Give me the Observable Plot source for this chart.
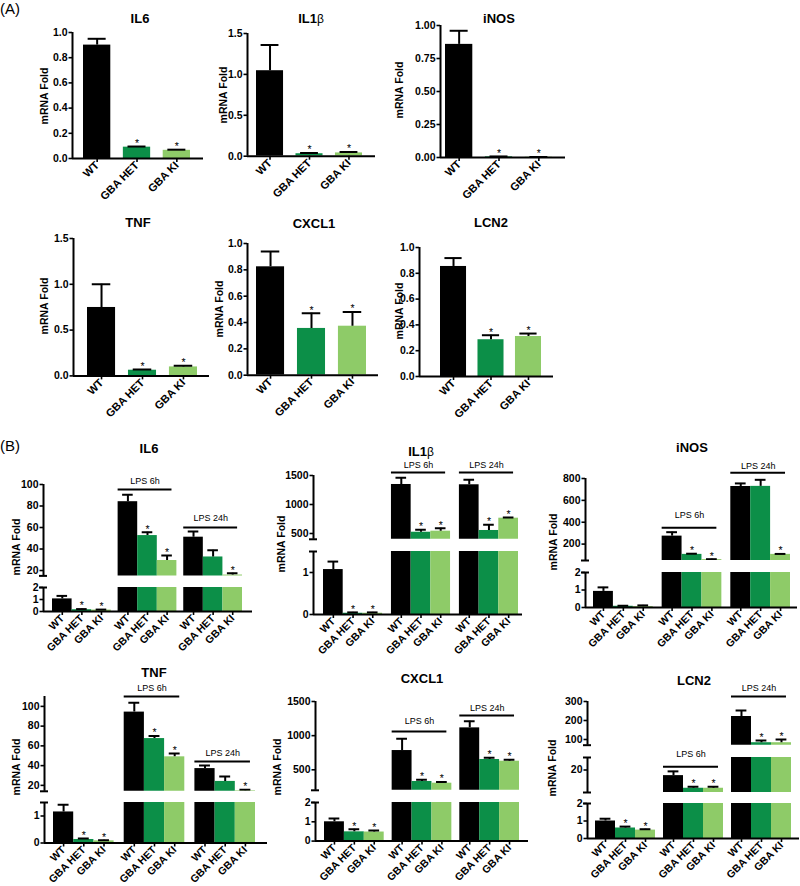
<!DOCTYPE html>
<html><head><meta charset="utf-8">
<script src="https://cdn.jsdelivr.net/npm/d3@7"></script>
<script src="https://cdn.jsdelivr.net/npm/@observablehq/plot@0.6"></script>
<style>
body{margin:0;background:#fff;}
#fig{position:relative;width:800px;height:886px;overflow:hidden;font-family:"Liberation Sans",Arial,sans-serif;color:#000;background:#fff;}
.title{position:absolute;transform:translate(-50%,-50%);font-weight:bold;font-size:13px;white-space:nowrap;}
.ylab{position:absolute;transform:translate(-50%,-50%) rotate(-90deg);font-weight:bold;font-size:10.5px;white-space:nowrap;}
.panel{position:absolute;font-size:15px;}
</style></head><body><div id="fig"></div>
<script>
// ---------- categories ----------
const genotypes = ["WT", "GBA HET", "GBA KI"];
const treatments = ["Control", "LPS 6h", "LPS 24h"];
const barColors = ["#000000", "#0c8f48", "#8ecb68"];

// ---------- Panel A (mRNA fold, one group) ----------
const il6A_mean = [0.90, 0.09, 0.065];
const il6A_err = [0.95, 0.095, 0.07];
const il6A_sig = [0, 1, 1];
const il1bA_mean = [1.045, 0.03, 0.04];
const il1bA_err = [1.36, 0.04, 0.05];
const il1bA_sig = [0, 1, 1];
const inosA_mean = [0.857, 0.005, 0.002];
const inosA_err = [0.96, 0.008, 0.004];
const inosA_sig = [0, 1, 1];
const tnfA_mean = [0.747, 0.062, 0.098];
const tnfA_err = [1.0, 0.07, 0.11];
const tnfA_sig = [0, 1, 1];
const cxcl1A_mean = [0.823, 0.355, 0.372];
const cxcl1A_err = [0.94, 0.47, 0.48];
const cxcl1A_sig = [0, 1, 1];
const lcn2A_mean = [0.853, 0.285, 0.31];
const lcn2A_err = [0.918, 0.32, 0.333];
const lcn2A_sig = [0, 1, 1];

// ---------- Panel B (rows: Control, LPS 6h, LPS 24h; cols: WT, HET, KI) ----------
const il6B_mean = [[1.05, 0.15, 0.12], [84, 52.5, 29.3], [51, 32.6, 15.8]];
const il6B_err  = [[1.3, 0.2, 0.16], [90.4, 55.6, 33.9], [56.3, 38.8, 17.5]];
const il6B_sig  = [[0, 1, 1], [0, 1, 1], [0, 0, 1]];
const il1bB_mean = [[1.07, 0.03, 0.03], [1345, 522, 540], [1340, 552, 764]];
const il1bB_err  = [[1.26, 0.05, 0.05], [1460, 563, 591], [1425, 650, 775]];
const il1bB_sig  = [[0, 1, 1], [0, 1, 1], [0, 1, 1]];
const inosB_mean = [[0.92, 0.07, 0.05], [273, 106, 58], [727, 728, 106]];
const inosB_err  = [[1.15, 0.1, 0.12], [309, 112, 62], [755, 788, 110]];
const inosB_sig  = [[0, 0, 0], [0, 1, 1], [0, 0, 1]];
const tnfB_mean = [[1.15, 0.13, 0.08], [94.2, 67.4, 48.9], [37, 24, 14.5]];
const tnfB_err  = [[1.42, 0.17, 0.1], [103.7, 70, 52.3], [40, 29, 15.5]];
const tnfB_sig  = [[0, 1, 1], [0, 1, 1], [0, 0, 1]];
const cxcl1B_mean = [[1.0, 0.48, 0.47], [782, 329, 304], [1114, 651, 626]];
const cxcl1B_err  = [[1.17, 0.62, 0.55], [953, 354, 320], [1211, 675, 646]];
const cxcl1B_sig  = [[0, 1, 1], [0, 1, 1], [0, 1, 1]];
const lcn2B_mean = [[1.0, 0.6, 0.48], [15.5, 5.4, 5.4], [221, 83, 83]];
const lcn2B_err  = [[1.13, 0.68, 0.53], [18.9, 6.6, 6.6], [253, 95, 100]];
const lcn2B_sig  = [[0, 1, 1], [0, 1, 1], [0, 1, 1]];

// bracket levels (in axis units of the segment they sit in)
const il6B_brackets = [{g: 1, y: 95.3}, {g: 2, y: 60}];
const il1bB_brackets = [{g: 1, y: 1552}, {g: 2, y: 1552}];
const inosB_brackets = [{g: 1, y: 349}, {g: 2, y: 852}];
const tnfB_brackets = [{g: 1, y: 110}, {g: 2, y: 44.3}];
const cxcl1B_brackets = [{g: 1, y: 1061}, {g: 2, y: 1295}];
const lcn2B_brackets = [{g: 1, y: 22.6}, {g: 2, y: 326}];

// ---------- layout ----------
const f1 = ".1f", f2 = ".2f";
const chartsA = [
  {title: "IL6", tx: 140, ty: 18, lx: 43.5, ly: 96, mean: [il6A_mean], err: [il6A_err], sig: [il6A_sig],
   axisX: 72, b0: 83, b1: 190, xEnd: 203, ig: 0.46,
   segs: [{domain: [0, 1], top: 32, bottom: 158, ticks: [0, 0.2, 0.4, 0.6, 0.8, 1], fmt: f1}]},
  {title: "IL1β", tx: 311, ty: 18, lx: 223, ly: 95, mean: [il1bA_mean], err: [il1bA_err], sig: [il1bA_sig],
   axisX: 247, b0: 256, b1: 362, xEnd: 375, ig: 0.46,
   segs: [{domain: [0, 1.5], top: 33, bottom: 155.7, ticks: [0, 0.5, 1, 1.5], fmt: f1}]},
  {title: "iNOS", tx: 499, ty: 18, lx: 399, ly: 90, mean: [inosA_mean], err: [inosA_err], sig: [inosA_sig],
   axisX: 440, b0: 445, b1: 552, xEnd: 565, ig: 0.46,
   segs: [{domain: [0, 1], top: 25.3, bottom: 157.3, ticks: [0, 0.25, 0.5, 0.75, 1], fmt: f2}]},
  {title: "TNF", tx: 138, ty: 222, lx: 44, ly: 306, mean: [tnfA_mean], err: [tnfA_err], sig: [tnfA_sig],
   axisX: 73, b0: 87, b1: 197, xEnd: 209, ig: 0.46,
   segs: [{domain: [0, 1.5], top: 238.3, bottom: 375.7, ticks: [0, 0.5, 1, 1.5], fmt: f1}]},
  {title: "CXCL1", tx: 314, ty: 223, lx: 219, ly: 309, mean: [cxcl1A_mean], err: [cxcl1A_err], sig: [cxcl1A_sig],
   axisX: 247, b0: 256, b1: 366, xEnd: 378, ig: 0.46,
   segs: [{domain: [0, 1], top: 243.3, bottom: 375, ticks: [0, 0.2, 0.4, 0.6, 0.8, 1], fmt: f1}]},
  {title: "LCN2", tx: 491, ty: 222, lx: 399, ly: 311, mean: [lcn2A_mean], err: [lcn2A_err], sig: [lcn2A_sig],
   axisX: 419, b0: 440, b1: 541, xEnd: 553, ig: 0.44,
   segs: [{domain: [0, 1], top: 246.7, bottom: 375.7, ticks: [0, 0.2, 0.4, 0.6, 0.8, 1], fmt: f1}]}
];
const chartsB = [
  {title: "IL6", tx: 149, ty: 448, lx: 16, ly: 547, mean: il6B_mean, err: il6B_err, sig: il6B_sig,
   axisX: 43, b0: 52, b1: 242, xEnd: 252, gg: 0.35,
   brackets: il6B_brackets, bseg: [0, 0], bdy: [-8, -9],
   segs: [{domain: [15, 100], top: 484, bottom: 575.4, ticks: [20, 40, 60, 80, 100]},
          {domain: [0, 2], top: 587, bottom: 611, ticks: [0, 1, 2]}]},
  {title: "IL1β", tx: 421, ty: 451, lx: 281, ly: 544, mean: il1bB_mean, err: il1bB_err, sig: il1bB_sig,
   axisX: 313, b0: 323, b1: 518, xEnd: 522, gg: 0.45,
   brackets: il1bB_brackets, bseg: [0, 0], bdy: [-7, -7],
   segs: [{domain: [400, 1500], top: 475, bottom: 538.8, ticks: [500, 1000, 1500]},
          {domain: [0, 1.5], top: 551, bottom: 614, ticks: [0, 1]}]},
  {title: "iNOS", tx: 692, ty: 447, lx: 553, ly: 542, mean: inosB_mean, err: inosB_err, sig: inosB_sig,
   axisX: 585, b0: 593, b1: 790, xEnd: 797, gg: 0.45,
   brackets: inosB_brackets, bseg: [0, 0], bdy: [-13, -7],
   segs: [{domain: [50, 800], top: 477.7, bottom: 559.7, ticks: [200, 400, 600, 800]},
          {domain: [0, 2], top: 571.7, bottom: 606.7, ticks: [0, 1, 2]}]},
  {title: "TNF", tx: 154, ty: 672, lx: 16, ly: 767, mean: tnfB_mean, err: tnfB_err, sig: tnfB_sig,
   axisX: 44, b0: 53, b1: 255, xEnd: 267, gg: 0.5,
   brackets: tnfB_brackets, bseg: [0, 0], bdy: [-8, -8],
   segs: [{domain: [14, 110], top: 696.1, bottom: 790.9, ticks: [20, 40, 60, 80, 100]},
          {domain: [0, 1.5], top: 802.2, bottom: 842.7, ticks: [0, 1]}]},
  {title: "CXCL1", tx: 422, ty: 678, lx: 277, ly: 767, mean: cxcl1B_mean, err: cxcl1B_err, sig: cxcl1B_sig,
   axisX: 315, b0: 324, b1: 519, xEnd: 528, gg: 0.4,
   brackets: cxcl1B_brackets, bseg: [0, 0], bdy: [-10, -7],
   segs: [{domain: [200, 1500], top: 701, bottom: 789.8, ticks: [500, 1000, 1500]},
          {domain: [0, 2], top: 801.7, bottom: 840.3, ticks: [0, 1, 2]}]},
  {title: "LCN2", tx: 694, ty: 680, lx: 552, ly: 768, mean: lcn2B_mean, err: lcn2B_err, sig: lcn2B_sig,
   axisX: 587, b0: 595, b1: 791, xEnd: 799, gg: 0.4,
   brackets: lcn2B_brackets, bseg: [1, 0], bdy: [-13, -8],
   segs: [{domain: [70, 300], top: 701, bottom: 744.7, ticks: [100, 200, 300]},
          {domain: [2, 30], top: 756.7, bottom: 791.7, ticks: [20]},
          {domain: [0, 2], top: 802.7, bottom: 837.7, ticks: [0, 1, 2]}]}
];

const fig = document.getElementById("fig");
function addDiv(cls, html, x, y) {
  const d = document.createElement("div");
  d.className = cls; d.innerHTML = html;
  d.style.left = x + "px"; d.style.top = y + "px";
  fig.appendChild(d);
}

function drawChart(c, isB) {
  const nG = c.mean.length;
  const ig = c.ig || 0, gg = c.gg || 0;
  const groupW = 3 + 2 * ig;
  const bars = [];
  for (let g = 0; g < nG; g++) for (let k = 0; k < 3; k++) {
    const x1 = g * (groupW + gg) + k * (1 + ig);
    bars.push({x1, x2: x1 + 1, xc: x1 + 0.5, v: c.mean[g][k], e: c.err[g][k],
      star: !!c.sig[g][k], color: barColors[k], label: genotypes[k]});
  }
  const total = nG * groupW + (nG - 1) * gg;
  const ppu = (c.b1 - c.b0) / total;
  const xmin = -(c.b0 - c.axisX) / ppu;
  const xmax = total + (c.xEnd - c.b1) / ppu;
  const capH = isB ? 0.27 : 0.33;
  bars.forEach(d => { d.cx1 = d.xc - capH; d.cx2 = d.xc + capH; });
  const brk = 4 / ppu;
  const tickMap = new Map(bars.map(d => [d.xc, d.label]));
  const brs = (c.brackets || []).map((b, i) => {
    const x1 = b.g * (groupW + gg);
    return {x1, x2: x1 + 2.75, xm: x1 + 1.375, y: b.y, label: treatments[b.g], seg: c.bseg[i], dy: c.bdy[i]};
  });

  c.segs.forEach((s, i) => {
    const isTop = i === 0, isBot = i === c.segs.length - 1;
    const mL = 60, mR = 6, mT = 34, mB = isBot ? 70 : 0;
    const inSeg = d => d.e >= s.domain[0] && d.e <= s.domain[1];
    const marks = [
      Plot.rectY(bars, {x1: "x1", x2: "x2", y1: 0, y2: "v", fill: "color", clip: true}),
      Plot.ruleX(bars, {x: "xc", y1: "v", y2: "e", strokeWidth: 2, clip: true}),
      Plot.ruleY(bars, {y: "e", x1: "cx1", x2: "cx2", strokeWidth: 2, clip: true}),
      Plot.text(bars.filter(d => d.star && inSeg(d)), {x: "xc", y: "e", text: () => "*", dy: -3, fontSize: 10.5, fontWeight: "normal", fill: "#000"}),
      Plot.ruleX([xmin], {strokeWidth: 2}),
      Plot.axisY(s.ticks, {tickFormat: s.fmt ? d3.format(s.fmt) : (d => String(d)), tickSize: 3.5, tickPadding: 1.5,
        strokeWidth: 1.6, fontSize: 10.5, fontWeight: "bold", label: null})
    ];
    if (!isTop) marks.push(Plot.ruleY([s.domain[1]], {x1: xmin - brk, x2: xmin + brk, strokeWidth: 2}));
    if (!isBot) marks.push(Plot.ruleY([s.domain[0]], {x1: xmin - brk, x2: xmin + brk, strokeWidth: 2}));
    if (isBot) {
      marks.push(Plot.ruleY([0], {strokeWidth: 2}));
      marks.push(Plot.axisX(bars.map(d => d.xc), {tickFormat: d => tickMap.get(d), tickRotate: -45, tickSize: 4,
        tickPadding: 1, strokeWidth: 1.6, fontSize: isB ? 10.5 : 11, fontWeight: "bold", label: null}));
    }
    brs.filter(b => b.seg === i).forEach(b => {
      marks.push(Plot.ruleY([b], {y: "y", x1: "x1", x2: "x2", strokeWidth: 2}));
      marks.push(Plot.text([b], {x: "xm", y: "y", text: "label", dy: b.dy, fontSize: 9, fontWeight: "normal", fill: "#000"}));
    });
    const svg = Plot.plot({
      width: c.xEnd - c.axisX + mL + mR,
      height: s.bottom - s.top + mT + mB,
      marginLeft: mL, marginRight: mR, marginTop: mT, marginBottom: mB,
      x: {type: "linear", domain: [xmin, xmax], axis: null},
      y: {type: "linear", domain: s.domain, axis: null},
      color: {type: "identity"},
      style: {background: "transparent", fontFamily: "'Liberation Sans', Arial, sans-serif", fontWeight: "bold", fontSize: "11px", overflow: "visible", color: "#000"},
      marks
    });
    svg.style.position = "absolute";
    svg.style.left = (c.axisX - mL) + "px";
    svg.style.top = (s.top - mT) + "px";
    svg.style.maxWidth = "none";
    fig.appendChild(svg);
  });
  const t = c.title === "IL1β" ? 'IL1<span style="font-weight:normal;font-size:12px">β</span>' : c.title;
  addDiv("title", t, c.tx, c.ty);
  addDiv("ylab", "mRNA Fold", c.lx, c.ly);
}

addDiv("panel", "(A)", 0, 0);
addDiv("panel", "(B)", 0, 437);
chartsA.forEach(c => drawChart(c, false));
chartsB.forEach(c => drawChart(c, true));
</script></body></html>
